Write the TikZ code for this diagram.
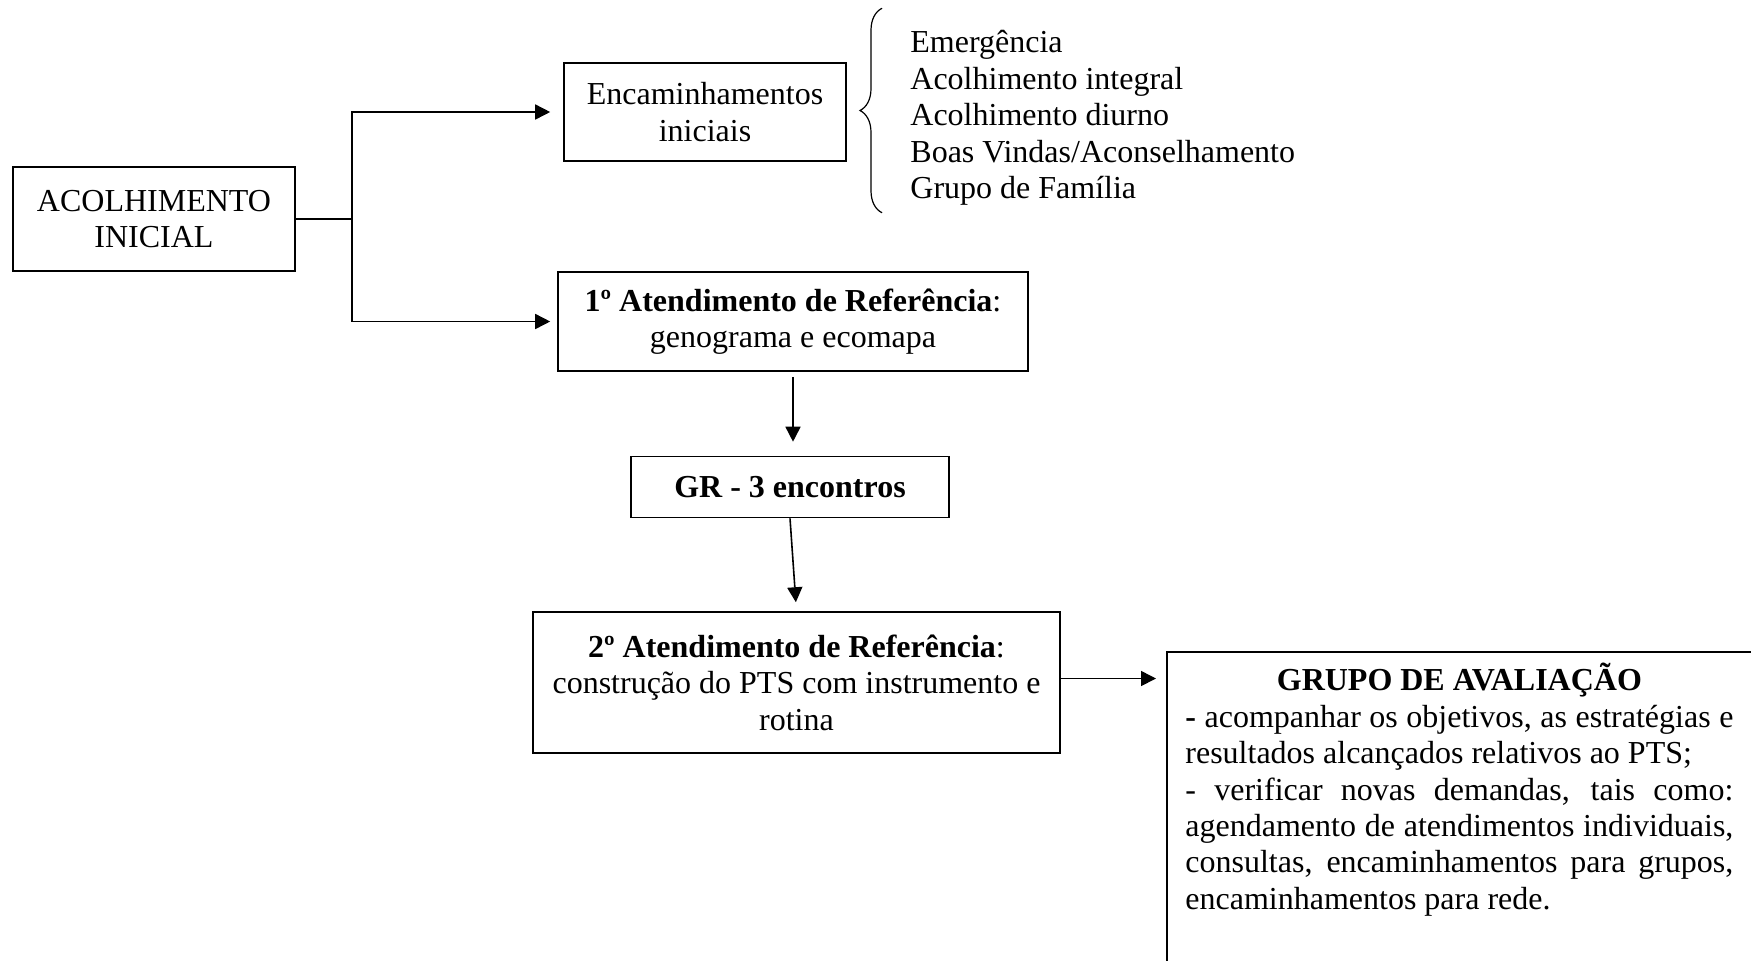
\documentclass[tikz,border=0pt]{standalone}
\usepackage{fontspec}
\setmainfont{Liberation Serif}
\usetikzlibrary{arrows.meta, decorations.pathreplacing}

\begin{document}
\begin{tikzpicture}[
  x=0.5pt, y=-0.5pt,
  font=\fontsize{16}{18.2}\selectfont,
  box/.style={draw, line width=0.8pt, align=center, inner sep=0pt},
  arr/.style={-{Triangle[length=7.5pt, width=7.5pt]}, line width=0.8pt},
  brc/.style={decorate, decoration={brace, amplitude=11pt}, line width=0.6pt},
]
\useasboundingbox (0,0) rectangle (1751,960);
\clip (0,0) rectangle (1751,960);
% left entry box and the fork
\node[box, minimum width=141pt, minimum height=52pt] (acolh) at (154,219) {ACOLHIMENTO\\INICIAL};
\coordinate (fork) at (352,219);
% upper branch with the list of options
\node[box, minimum width=141pt, minimum height=49pt] (enc) at (705,112) {Encaminhamentos\\iniciais};
\node[align=left, anchor=west, inner xsep=0pt, inner ysep=6pt] (opcoes) at (910,118)
  {Emergência\\Acolhimento integral\\Acolhimento diurno\\Boas Vindas/Aconselhamento\\Grupo de Família};
\draw[brc] ([xshift=-14pt, yshift=2.5pt]opcoes.south west) -- ([xshift=-14pt, yshift=5pt]opcoes.north west);
% main column
\node[box, minimum width=235pt, minimum height=49.5pt] (ref1) at (793,321.5)
  {\textbf{1º Atendimento de Referência}:\\genograma e ecomapa};
\node[box, minimum width=159pt, minimum height=30.5pt, font=\fontsize{16}{18.2}\selectfont\bfseries] (gr) at (790,487)
  {GR - 3 encontros};
\node[box, minimum width=263.5pt, minimum height=70.5pt] (ref2) at (796.5,682.5)
  {\textbf{2º Atendimento de Referência}:\\construção do PTS com instrumento e\\rotina};
% evaluation group (runs off the page)
\node[draw, line width=0.8pt, anchor=north west, minimum width=320pt, minimum height=180pt] (aval) at (1166,651) {};
\node[anchor=north west, inner sep=0pt, text width=274pt, align=justify] (avaltxt) at (1185,663)
  {{\centering\bfseries GRUPO DE AVALIAÇÃO\par}
   \noindent\textbf{-} acompanhar os objetivos, as estratégias e\linebreak
   resultados alcançados relativos ao PTS;\par
   \noindent - verificar novas demandas, tais como:\linebreak
   agendamento de atendimentos individuais,\linebreak
   consultas, encaminhamentos para grupos,\linebreak
   encaminhamentos para rede.};
% connectors
\draw[line width=0.8pt] (acolh.east) -- (fork);
\draw[arr, shorten >=6.5pt] (fork) |- (enc.west);
\draw[arr, shorten >=3.5pt] (fork) |- (ref1.west);
\draw[arr, shorten <=2.5pt, shorten >=7pt] (ref1.south) -- (ref1.south |- gr.north);
\draw[arr, shorten >=4.5pt] (gr.south) -- (ref2.north);
\draw[arr, shorten >=5pt] ([yshift=2pt]ref2.east) -- ([yshift=2pt]ref2.east -| aval.west);
\end{tikzpicture}
\end{document}
